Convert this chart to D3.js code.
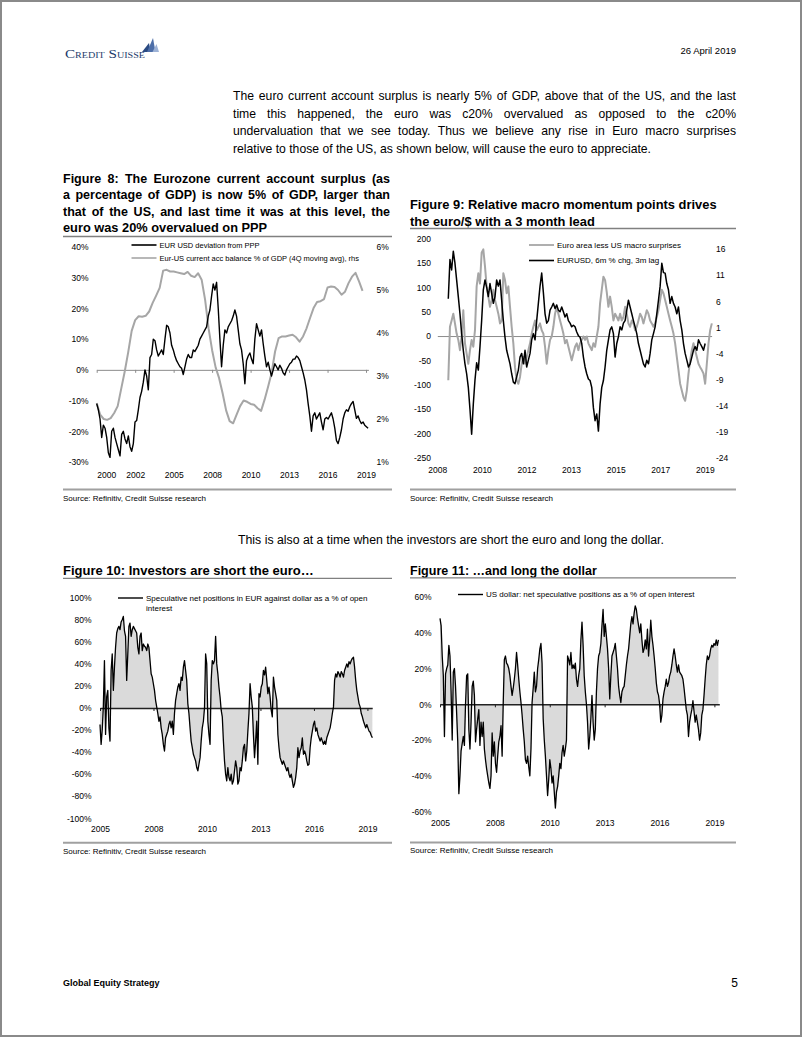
<!DOCTYPE html>
<html>
<head>
<meta charset="utf-8">
<script src="https://cdn.jsdelivr.net/npm/d3@7"></script>
<style>
  body { margin: 0; background: #fff; }
  svg { display: block; }
</style>
</head>
<body>
<div id="page"></div>
<script>
// ---------- text of the page ----------
var dateLine = "26 April 2019";
var paragraph = [
  "The euro current account surplus is nearly 5% of GDP, above that of the US, and the last",
  "time this happened, the euro was c20% overvalued as opposed to the c20%",
  "undervaluation that we see today. Thus we believe any rise in Euro macro surprises",
  "relative to those of the US, as shown below, will cause the euro to appreciate."
];
var middleLine = "This is also at a time when the investors are short the euro and long the dollar.";
var sourceLine = "Source: Refinitiv, Credit Suisse research";

// ---------- Figure 8 ----------
var fig8Title = [
  "Figure 8: The Eurozone current account surplus (as",
  "a percentage of GDP) is now 5% of GDP, larger than",
  "that of the US, and last time it was at this level, the",
  "euro was 20% overvalued on PPP"
];
var fig8TickYears = [2000, 2002.75, 2005.5, 2008.25, 2011, 2013.75, 2016.5, 2019.25];
var fig8TickLabels = ["2000", "2002", "2005", "2008", "2010", "2013", "2016", "2019"];
var fig8LeftTicks = [-30, -20, -10, 0, 10, 20, 30, 40];
var fig8RightTicks = [1, 2, 3, 4, 5, 6];
var fig8Legend = ["EUR USD deviation from PPP", "Eur-US current acc balance % of GDP (4Q moving avg), rhs"];

// EUR USD deviation from PPP, %, roughly every 6 weeks from Jan 2000
var pppStart = 2000, pppStep = 0.119;
var pppDeviation = [
  -11, -13, -16, -22, -18, -19, -22, -27, -28.5, -20,
  -19, -22, -24, -26, -28, -21, -20, -22.5, -24, -21.5,
  -25, -26.5, -24, -17, -16.5, -13, -9, -7, -4, 0,
  -2, -6.5, 4, 5, 10, 9.5, 6.5, 4.5, 5.5, 6.5,
  5, 10, 14.5, 14, 12, 8, 6.5, 4.5, 3, 2,
  1, 0.5, -1.5, 1, 3.5, 5, 4, 4, 6.5, 6,
  7, 8, 10, 11, 12, 13, 14, 17.5, 19.5, 24,
  28, 26, 28.5, 20, 10, 1, 8, 13, 12, 14,
  15, 16, 17.5, 19.5, 17.5, 13, 8.5, 6.5, 2, -4.5,
  3, 4.5, 5.5, 3.5, 2, 10, 15, 13, 11, 13,
  8.5, 4.5, 1, 2.5, 0, -2, 0, 2, 1, 0,
  1.5, 0.5, -1, -1.7, 0, 1, 2, 2.5, 3.5, 3.5,
  4.5, 4, 3, 1, -1, -3.3, -6.5, -11, -15, -20,
  -15, -14, -16, -15, -14, -17, -19.5, -16, -15.5, -16,
  -15, -14, -16, -19, -23, -24, -22, -19.5, -16, -14,
  -13, -13.5, -12, -11, -10.3, -13, -15.8, -15, -16.5, -17.5,
  -17, -18, -18.5, -19
];
// Eur-US current account balance, % of GDP, quarterly from Q1 2000 (rhs)
var caStart = 2000, caStep = 0.25;
var caBalance = [
  2.37, 2.1, 2.0, 1.98, 2.02, 2.14, 2.3, 2.7, 3.1, 3.55,
  4.05, 4.3, 4.39, 4.38, 4.4, 4.5, 4.7, 4.87, 5.05, 5.45,
  5.47, 5.43, 5.43, 5.41, 5.39, 5.37, 5.42, 5.33, 5.3, 5.39,
  5.24, 4.77, 4.1, 3.6, 3.2, 2.95, 2.6, 2.2, 1.95, 1.9,
  2.1, 2.3, 2.43, 2.4, 2.35, 2.33, 2.25, 2.19, 2.45, 2.75,
  3.07, 3.57, 3.88, 3.92, 3.92, 3.94, 3.96, 3.9, 3.8, 3.92,
  4.11, 4.35, 4.58, 4.72, 4.74, 4.79, 5.06, 5.08, 5.07, 5.0,
  4.89, 4.96, 5.16, 5.31, 5.4, 5.2, 4.98
];

// ---------- Figure 9 ----------
var fig9Title = ["Figure 9: Relative macro momentum points drives", "the euro/$ with a 3 month lead"];
var fig9TickYears = [2008, 2009.85, 2011.7, 2013.55, 2015.4, 2017.25, 2019.1];
var fig9TickLabels = ["2008", "2010", "2012", "2013", "2015", "2017", "2019"];
var fig9LeftTicks = [-250, -200, -150, -100, -50, 0, 50, 100, 150, 200];
var fig9RightTicks = [-24, -19, -14, -9, -4, 1, 6, 11, 16];
var fig9Legend = ["Euro area less US macro surprises", "EURUSD, 6m % chg, 3m lag"];

var surpStart = 2008.456, surpStep = 0.0692;
// Euro area less US macro surprises (lhs)
var macroSurprise = [
  -91, 19, 32, 46, 26, 5, -8, -29, -1, 53,
  -15, -36, -57, -29, -8, -22, 12, 102, 129, 108,
  171, 178, 143, 102, 81, 60, 74, 95, 74, 60,
  46, 26, 32, 129, 115, 88, 102, 60, 19, -15,
  -64, -91, -98, -84, -57, -43, -57, -43, -29, -15,
  5, 19, 32, 12, 19, 26, 12, 5, -22, -57,
  -29, -8, -1, 19, 46, 60, 46, 32, 19, 5,
  -15, -8, -22, -36, -50, -36, -22, -15, -29, -15,
  -8, -1, -8, -1, -15, -22, -29, -15, -22, -1,
  19, 67, 95, 122, 115, 90, 60, 81, 60, 32,
  46, 39, 32, 46, 32, 39, 60, 46, 26, 19,
  32, 26, 12, 19, 32, 46, 39, 26, 39, 53,
  46, 32, 26, 19, 26, 39, 53, 74, 95, 88,
  74, 60, 46, 32, 19, 5, -15, -43, -70, -98,
  -112, -126, -133, -112, -77, -50, -29, -15, -29, -43,
  -57, -64, -70, -77, -98, -57, -15, 12, 26
];
// EURUSD 6m % change, lagged 3m (rhs)
var eurusdChg = [
  6.5, 14.0, 12.0, 15.6, 13.3, 10.1, 6.9, 3.6, -0.2, -3.4,
  -6.0, -7.9, -10.5, -14.7, -19.5, -13.7, -9.1, -5.8, -7.2, -2.7,
  2.3, 8.2, 10.1, 8.7, 6.9, 9.4, 7.5, 5.6, 6.9, 10.1,
  8.9, 10.1, 6.2, 2.3, -0.9, -3.4, -4.7, -6.0, -7.9, -9.5,
  -9.8, -8.5, -7.2, -4.7, -4.0, -6.0, -3.4, -6.6, -5.3, -4.0,
  -1.4, -0.2, -1.4, 2.3, 5.6, 8.9, 11.4, 7.7, 3.6, 1.8,
  2.3, 4.3, 4.9, 5.6, 4.6, 5.3, 4.3, 4.0, 4.9, 4.0,
  3.0, 3.6, 2.3, 1.8, 1.1, 1.4, 1.1, 0.1, -0.6, -0.9,
  -2.1, -4.7, -6.6, -7.9, -8.9, -9.2, -10.5, -14.4, -16.9, -15.6,
  -18.9, -13.7, -10.5, -9.2, -6.6, -3.4, -1.4, 0.5, 1.1, -0.2,
  -4.7, -2.1, -0.8, 1.1, 0.5, 1.8, 2.3, 4.3, 6.2, 4.9,
  3.6, 2.3, 1.1, -0.2, -2.1, -3.4, -4.7, -6.0, -6.6, -5.3,
  -6.0, -4.0, -1.4, -0.2, 1.1, 3.6, 6.2, 8.9, 13.3, 11.5,
  11.4, 9.4, 8.2, 5.6, 6.9, 5.6, 4.9, 3.6, 4.9, 2.3,
  0.5, -2.1, -4.0, -5.3, -6.6, -6.0, -4.7, -3.4, -2.7, -3.4,
  -1.4, -2.1, -2.7, -3.4, -2.1
];

// ---------- Figures 10 and 11 ----------
var fig10Title = "Figure 10: Investors are short the euro\u2026";
var fig11Title = "Figure 11: \u2026and long the dollar";
var posTickYears = [2005, 2007.8, 2010.6, 2013.4, 2016.2, 2019];
var posTickLabels = ["2005", "2008", "2010", "2013", "2016", "2019"];
var fig10Ticks = [-100, -80, -60, -40, -20, 0, 20, 40, 60, 80, 100];
var fig11Ticks = [-60, -40, -20, 0, 20, 40, 60];
var fig10Legend = ["Speculative net positions in EUR against dollar as a % of open", "interest"];
var fig11Legend = "US dollar: net speculative positions as a % of open interest";

// EUR speculative net positions, % of open interest, about every 3 weeks
var eurPosStart = 2005, eurPosStep = 0.0582;
var eurPositions = [
  -15, -33, -20, 1, 43, -24, 10, 16, -18, -30,
  34, 49, 16, 37, 55, 68, 72, 74, 71, 78,
  80, 83, 70, 65, 25, 49, 74, 77, 65, 71,
  74, 72, 70, 68, 55, 49, 65, 68, 52, 58,
  56, 55, 52, 58, 55, 43, 31, 28, 22, 16,
  7, 1, -5, -12, -8, -18, -24, -33, -39, -27,
  -24, -21, -15, -12, -18, -12, -24, -5, 7, 13,
  19, 22, 16, 28, 25, 37, 43, 34, 25, 4,
  -5, -18, -30, -36, -42, -45, -48, -54, -57, -51,
  -45, -30, -18, -12, 0, 49, 40, -12, -24, -33,
  25, 43, 40, 43, 65, 40, 31, 19, 10, -2,
  -8, -30, -48, -60, -66, -54, -63, -66, -60, -69,
  -66, -57, -48, -54, -69, -66, -54, -57, -48, -36,
  -33, -48, -39, -21, -5, 22, 10, 1, -24, -45,
  -30, -12, -51, 13, 10, 19, 22, 34, 30, 37,
  25, 13, 19, 10, -2, -8, 28, 19, 13, 7,
  -24, -36, -45, -48, -51, -48, -51, -54, -57, -54,
  -60, -63, -60, -66, -72, -69, -63, -54, -36, -45,
  -39, -36, -27, -42, -39, -42, -48, -52, -51, -36,
  -27, -21, -15, -12, -21, -18, -24, -27, -30, -27,
  -30, -33, -30, -33, -27, -24, -21, -18, -12, -5,
  1, 25, 31, 28, 33, 31, 28, 33, 31, 28,
  34, 37, 40, 37, 42, 40, 43, 45, 46, 37,
  25, 16, 10, 4, 1, -5, -8, -12, -15, -18,
  -15, -18, -21, -22, -25, -27
];
// US dollar net speculative positions, % of open interest
var usdPosStart = 2005, usdPosStep = 0.0566;
var usdPositions = [
  48, 44, 27, 16, -18, 17, 20, 22, 33, 27,
  7, -20, 18, 20, 10, -5, -21, -50, -40, -26,
  -22, -18, -23, 0, 16, 17, -14, -25, -10, 10,
  13, 5, -21, -14, -8, -3, -23, -10, -18, -10,
  -25, -31, -36, -40, -44, -47, -40, -16, -29, -21,
  -33, -38, -29, -21, -18, -12, -29, 1, 25, 27,
  23, 22, 20, 16, 10, 5, 9, 14, 20, 29,
  22, 14, 7, 1, -6, -14, -21, -31, -33, -29,
  -35, -40, -25, 1, 9, 18, 7, 10, 20, 25,
  31, 34, 23, -8, -20, -29, -40, -51, -42, -31,
  -36, -44, -40, -49, -58, -49, -46, -40, -33, -36,
  -27, -23, -29, -25, -20, 27, 25, 22, 29, 20,
  22, 20, 23, 14, 10, 16, 20, 36, 46, 33,
  16, 7, 0, -10, -25, -18, -8, 5, -10, -20,
  -14, 7, 20, 27, 29, 34, 44, 53, 38, 45,
  38, 31, 20, 3, 16, 27, 29, 31, 34, 27,
  20, 10, 5, 1, 7, 9, 10, 16, 22, 27,
  31, 38, 45, 49, 45, 51, 55, 53, 48, 44,
  40, 45, 36, 29, 31, 36, 31, 42, 27, 36,
  47, 38, 33, 27, 20, 12, 7, 5, 0, -10,
  -6, 3, 7, 10, 14, 10, 12, 16, 18, 22,
  27, 31, 27, 22, 18, 22, 18, 17, 16, 14,
  9, 3, -3, -6, -18, -10, -6, -3, 2, -4,
  -10, -6, -10, -14, -20, -16, -6, -3, 5, 14,
  22, 27, 25, 27, 31, 33, 32, 34, 33, 36,
  33, 36
];

// ---------- drawing ----------
var FONT = '"Liberation Sans", Arial, Helvetica, sans-serif';
var svg = d3.select("#page").append("svg")
  .attr("width", 802)
  .attr("height", 1037)
  .attr("font-family", FONT);

function toPoints(values, start, step) {
  return values.map(function(v, i) { return { t: start + i * step, v: v }; });
}

function text(x, y, s, size, weight, anchor, color) {
  return svg.append("text")
    .attr("x", x).attr("y", y)
    .attr("font-size", size)
    .attr("font-weight", weight || "normal")
    .attr("text-anchor", anchor || "start")
    .attr("fill", color || "#000")
    .text(s);
}

function rule(x1, x2, y, width, color) {
  svg.append("line")
    .attr("x1", x1).attr("x2", x2).attr("y1", y).attr("y2", y)
    .attr("stroke", color).attr("stroke-width", width);
}

// justified line: words spread between x0 and x1
function justify(line, x0, x1, y, size, weight) {
  var words = line.split(" ");
  var nodes = words.map(function(w) { return text(0, y, w, size, weight); });
  var widths = nodes.map(function(n) { return n.node().getComputedTextLength(); });
  var gap = (x1 - x0 - d3.sum(widths)) / (words.length - 1);
  var x = x0;
  nodes.forEach(function(n, i) { n.attr("x", x); x += widths[i] + gap; });
}

function tidy(g, size) {
  g.attr("font-family", FONT).attr("font-size", size);
  g.select(".domain").remove();
  g.selectAll("text").attr("fill", "#000");
}

function yLabels(scale, ticks, x, side, fmt) {
  var axis = (side === "left" ? d3.axisLeft(scale) : d3.axisRight(scale))
    .tickValues(ticks).tickSize(0).tickPadding(0).tickFormat(fmt);
  var g = svg.append("g").attr("transform", "translate(" + x + ",0)").call(axis);
  tidy(g, 8.5);
  return g;
}

function xLabels(scale, years, labels, y) {
  var axis = d3.axisBottom(scale).tickValues(years).tickSize(0).tickPadding(0)
    .tickFormat(function(d, i) { return labels[i]; });
  var g = svg.append("g").attr("transform", "translate(0," + y + ")").call(axis);
  tidy(g, 8.5);
  return g;
}

function zeroLine(scale, years, y, color, width) {
  var axis = d3.axisBottom(scale).tickValues(years).tickSize(3).tickSizeOuter(0).tickFormat("");
  var g = svg.append("g").attr("transform", "translate(0," + y + ")").call(axis);
  g.select(".domain").attr("stroke", color).attr("stroke-width", width);
  g.selectAll(".tick line").attr("stroke", color);
}

function legendItem(x, y, color, width, label, size) {
  svg.append("line")
    .attr("x1", x).attr("x2", x + 25).attr("y1", y).attr("y2", y)
    .attr("stroke", color).attr("stroke-width", width);
  text(x + 28, y + 2.7, label, size);
}

function plotLine(data, x, y, color, width) {
  var line = d3.line()
    .x(function(d) { return x(d.t); })
    .y(function(d) { return y(d.v); });
  svg.append("path")
    .datum(data)
    .attr("d", line)
    .attr("fill", "none")
    .attr("stroke", color)
    .attr("stroke-width", width)
    .attr("stroke-linejoin", "round");
}

function plotArea(data, x, y) {
  var area = d3.area()
    .x(function(d) { return x(d.t); })
    .y0(y(0))
    .y1(function(d) { return y(d.v); });
  svg.append("path").datum(data).attr("d", area).attr("fill", "#dadada");
}

// page frame
svg.append("rect")
  .attr("x", 1).attr("y", 1).attr("width", 800).attr("height", 1035)
  .attr("fill", "none").attr("stroke", "#8a8a8a").attr("stroke-width", 2);

// logo
svg.append("text")
  .attr("x", 65).attr("y", 57.5)
  .attr("font-family", '"Liberation Serif", "DejaVu Serif", serif')
  .attr("font-size", 12)
  .attr("textLength", 80).attr("lengthAdjust", "spacingAndGlyphs")
  .style("font-variant", "small-caps")
  .attr("fill", "#1c3a6b")
  .text("Credit Suisse");
svg.append("path").attr("d", "M142,52 L149,43 L150.5,52 Z").attr("fill", "#2a4a82");
svg.append("path").attr("d", "M147,52 L153,38 L155.5,52 Z").attr("fill", "#4d6ea8");
svg.append("path").attr("d", "M152.5,52 L156.5,44 L159,52 Z").attr("fill", "#9db2d6");

text(736, 53.5, dateLine, 9.5, "normal", "end");

paragraph.forEach(function(line, i) {
  var y = 100 + i * 17.5;
  if (i < paragraph.length - 1) justify(line, 233, 736, y, 12.2);
  else text(233, y, line, 12.2);
});

// ---- Figure 8 ----
fig8Title.forEach(function(line, i) {
  var y = 182.5 + i * 16.6;
  if (i < fig8Title.length - 1) justify(line, 63, 390, y, 12.5, "bold");
  else text(63, y, line, 12.8, "bold");
});
rule(63, 392, 236.5, 1.3, "#808080");

var x8 = d3.scaleLinear().domain([2000, 2019.42]).range([96.7, 368.4]);
var y8 = d3.scaleLinear().domain([-30, 40]).range([462, 247]);
var y8r = d3.scaleLinear().domain([1, 6]).range([462, 247]);

yLabels(y8, fig8LeftTicks, 88.5, "left", function(d) { return d + "%"; });
yLabels(y8r, fig8RightTicks, 376.5, "right", function(d) { return d + "%"; });
var g8 = xLabels(x8, fig8TickYears, fig8TickLabels, 472);
g8.select(".tick text").attr("text-anchor", "start");
zeroLine(x8, fig8TickYears, y8(0), "#8c8c8c", 1);

plotLine(toPoints(caBalance, caStart, caStep), x8, y8r, "#a6a6a6", 2);
plotLine(toPoints(pppDeviation, pppStart, pppStep), x8, y8, "#000", 1.4);

legendItem(131.5, 245, "#000", 1.6, fig8Legend[0], 7.5);
legendItem(131.5, 258, "#a6a6a6", 1.6, fig8Legend[1], 7.5);

rule(63, 392, 489.5, 2, "#a0a0a0");
text(63, 501, sourceLine, 8);

// ---- Figure 9 ----
fig9Title.forEach(function(line, i) { text(410, 209 + i * 16.6, line, 12.9, "bold"); });
rule(410, 736, 228.5, 1.3, "#808080");

var x9 = d3.scaleLinear().domain([2008, 2019.38]).range([437.3, 711.6]);
var y9 = d3.scaleLinear().domain([-250, 200]).range([457.7, 238.7]);
var y9r = d3.scaleLinear().domain([-24, 18]).range([457.7, 238.7]);

yLabels(y9, fig9LeftTicks, 431, "left", function(d) { return d; });
yLabels(y9r, fig9RightTicks, 716, "right", function(d) { return d; });
xLabels(x9, fig9TickYears, fig9TickLabels, 466.5);
zeroLine(x9, [], y9(0), "#8c8c8c", 1);

plotLine(toPoints(macroSurprise, surpStart, surpStep), x9, y9, "#a6a6a6", 2);
plotLine(toPoints(eurusdChg, surpStart, surpStep), x9, y9r, "#000", 1.5);

legendItem(529, 245, "#a6a6a6", 1.8, fig9Legend[0], 8);
legendItem(529, 260.5, "#000", 1.6, fig9Legend[1], 8);

rule(410, 736, 489.5, 2, "#a0a0a0");
text(410, 501, sourceLine, 8);

// ---- middle sentence ----
text(238, 543.5, middleLine, 12.3);

// ---- Figure 10 ----
text(63, 575, fig10Title, 13, "bold");
rule(63, 392, 578.3, 1.3, "#808080");

var x10 = d3.scaleLinear().domain([2005, 2019.25]).range([100, 372.2]);
var y10 = d3.scaleLinear().domain([-100, 100]).range([818.3, 597.7]);

yLabels(y10, fig10Ticks, 91.5, "left", function(d) { return d + "%"; });
xLabels(x10, posTickYears, posTickLabels, 826.3);

var eur = toPoints(eurPositions, eurPosStart, eurPosStep);
plotArea(eur, x10, y10);
zeroLine(x10, posTickYears, y10(0), "#222", 1.4);
plotLine(eur, x10, y10, "#000", 1.3);

legendItem(118, 598, "#000", 1.4, fig10Legend[0], 8);
text(146, 610.5, fig10Legend[1], 8);

rule(63, 392, 842.8, 2, "#a0a0a0");
text(63, 853.5, sourceLine, 8);

// ---- Figure 11 ----
text(410, 574.8, fig11Title, 12.5, "bold");
rule(410, 736, 577.8, 1.3, "#808080");

var x11 = d3.scaleLinear().domain([2005, 2019.25]).range([440, 719.3]);
var y11 = d3.scaleLinear().domain([-60, 60]).range([811.6, 597]);

yLabels(y11, fig11Ticks, 431.5, "left", function(d) { return d + "%"; });
xLabels(x11, posTickYears, posTickLabels, 820.3);

var usd = toPoints(usdPositions, usdPosStart, usdPosStep);
plotArea(usd, x11, y11);
zeroLine(x11, posTickYears, y11(0), "#222", 1.4);
plotLine(usd, x11, y11, "#000", 1.3);

legendItem(458, 594.5, "#000", 1.4, fig11Legend, 8);

rule(410, 736, 842.5, 2, "#a0a0a0");
text(410, 853.3, sourceLine, 8);

// ---- footer ----
text(63, 986, "Global Equity Strategy", 9, "bold");
text(738, 987, "5", 12, "normal", "end");
</script>
</body>
</html>
